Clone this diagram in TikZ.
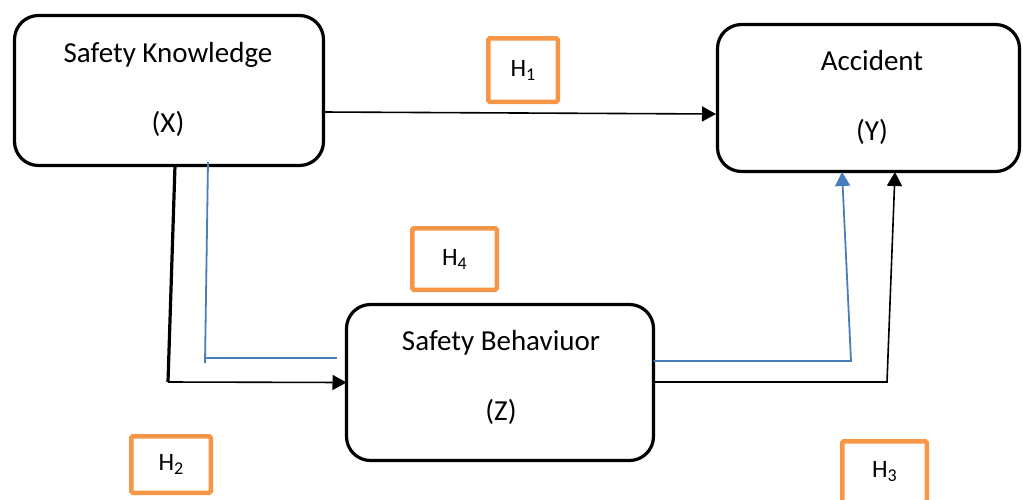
\documentclass[tikz,border=0pt]{standalone}
\usepackage{fontspec}
\setmainfont{Carlito}
\usetikzlibrary{arrows.meta,calc}
\definecolor{hOrange}{RGB}{247,150,70}
\definecolor{lnBlue}{RGB}{74,126,187}
\newcommand\hsub[2]{#1\raisebox{-4pt}{\fontsize{18}{18}\selectfont #2}}
\begin{document}
\begin{tikzpicture}[x=1pt,y=-1pt,
  varbox/.style={draw=black, line width=3.2pt, rounded corners=24pt, inner sep=0pt, outer sep=0pt},
  hbox/.style={draw=hOrange, line width=4.5pt, rounded corners=1.5pt, inner sep=0pt, outer sep=0pt, font=\fontsize{25}{30}\selectfont},
  lbl/.style={anchor=base, inner sep=0pt, font=\fontsize{29}{34}\selectfont},
  arr/.style={draw=black, line width=1.6pt, -{Triangle[length=14pt,width=15pt]}},
  blk/.style={draw=black, line width=1.6pt},
  thk/.style={draw=black, line width=3.2pt},
  bl/.style={draw=lnBlue, line width=1.8pt},
  blarr/.style={draw=lnBlue, line width=1.8pt, -{Triangle[length=14pt,width=15pt]}}
]
\useasboundingbox (0,0) rectangle (1023,499);
% variable boxes
\node[varbox, minimum width=309pt, minimum height=150pt] (X) at (169,90.5) {};
\node[varbox, minimum width=302pt, minimum height=147pt] (Y) at (868.5,98) {};
\node[varbox, minimum width=307pt, minimum height=156pt] (Z) at (500,382.5) {};
% texts
\node[lbl] (Xa) at (168,62) {Safety Knowledge};
\node[lbl] (Xb) at (168,132) {(X)};
\node[lbl] (Ya) at (872,70) {Accident};
\node[lbl] (Yb) at (872,140) {(Y)};
\node[lbl] (Za) at (501,350) {Safety Behaviuor};
\node[lbl] (Zb) at (501,420) {(Z)};
% hypothesis boxes
\node[hbox, minimum width=69.5pt, minimum height=63.5pt] (H1) at (523,70) {\hsub{H}{1}};
\node[hbox, minimum width=84.5pt, minimum height=61.5pt] (H4) at (454.5,259) {\hsub{H}{4}};
\node[hbox, minimum width=79.5pt, minimum height=56.5pt] (H2) at (171,464.5) {\hsub{H}{2}};
\node[hbox, minimum width=84.5pt, minimum height=61.5pt] (H3) at (884.5,472) {\hsub{H}{3}};
% connector points
\coordinate (x1) at (X.east |- 0,112);
\coordinate (y1) at (716,114);
\coordinate (k1) at (X.south -| 175,0);
\coordinate (k2) at (168,382);
\coordinate (b1) at (208,162);
\coordinate (b2) at (205,363);
\coordinate (b3) at (205,358);
\coordinate (b4) at (337,358);
\coordinate (r1) at (Z.east |- 0,361);
\coordinate (r2) at (851,361);
\coordinate (r3) at (842,172);
\coordinate (s1) at (Z.east |- 0,382);
\coordinate (s2) at (887,382);
\coordinate (s3) at (895,172);
% connectors
\draw[arr] (x1) -- (y1);
\draw[thk] (k1) -- (k2);
\draw[arr] (k2) -- (Z.west);
\draw[bl] (b1) -- (b2);
\draw[bl] (b3) -- (b4);
\draw[blarr] (r1) -- (r2) -- (r3);
\draw[arr] (s1) -- (s2) -- (s3);
\end{tikzpicture}
\end{document}
